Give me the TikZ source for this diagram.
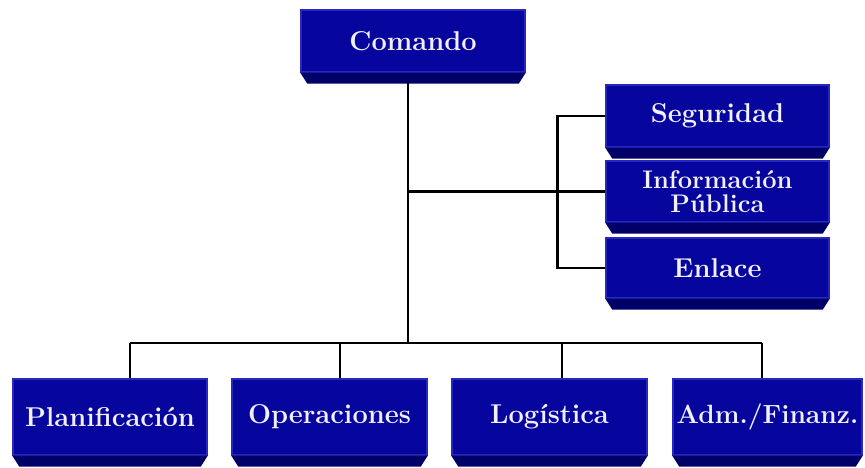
\documentclass[tikz,border=0pt]{standalone}
\usepackage{tikz}
\usetikzlibrary{calc, positioning}
\definecolor{unitface}{RGB}{6,6,158}
\definecolor{unitedge}{RGB}{40,40,190}
\definecolor{unitshade}{RGB}{0,0,104}
\definecolor{unittext}{RGB}{242,240,255}
\newcommand{\orgbox}[7][]{% options, name, x, y, width, height, text
  \node[unitbox, minimum width=#5*0.02cm, minimum height=#6*0.02cm, #1] (#2) at (#3,#4) {#7};
  \fill[unitshade] (#2.south west) -- (#2.south east) -- ++(-7,11) -- ($(#2.south west)+(7,11)$) -- cycle;
}
\tikzset{
  unitbox/.style={draw=unitedge, line width=0.8pt, fill=unitface, text=unittext,
    inner sep=0pt, align=center, font=\bfseries\fontsize{15.5}{15}\selectfont},
  link/.style={black, line width=1.6pt}
}

\begin{document}
\begin{tikzpicture}[x=0.02cm, y=-0.02cm]
\useasboundingbox (0,0) rectangle (865,467);
% boxes
\orgbox{cmd}{413}{41}{224}{62}{Comando}
\orgbox{segu}{717.5}{116}{223}{62}{Seguridad}
\orgbox[font=\bfseries\fontsize{14.5}{14}\selectfont]{info}{717.5}{191.5}{223}{61}{Información\\Pública}
\orgbox{enla}{717.5}{268}{223}{60}{Enlace}
\orgbox{plan}{110}{417}{194}{76}{Planificación}
\orgbox{oper}{329.5}{417}{195}{76}{Operaciones}
\orgbox{logi}{549.5}{417}{195}{76}{Logística}
\orgbox[font=\bfseries\fontsize{15}{15}\selectfont]{adm}{767.5}{417}{189}{76}{Adm./Finanz.}
% connectors
\coordinate (trunk) at (408,82);
\coordinate (bus) at (408,343);
\coordinate (tee) at (408,191.5);
\draw[link] (trunk) -- (bus);
\draw[link] (130,343) -- (762,343);
\foreach \xx/\nm in {130/plan,340/oper,562/logi,762/adm}
  \draw[link] (\xx,343) -- (\xx,343 |- \nm.north);
\draw[link] (tee) -- (info.west);
\draw[link] (segu.west) -- ++(-48,0) |- (enla.west);
\end{tikzpicture}
\end{document}
